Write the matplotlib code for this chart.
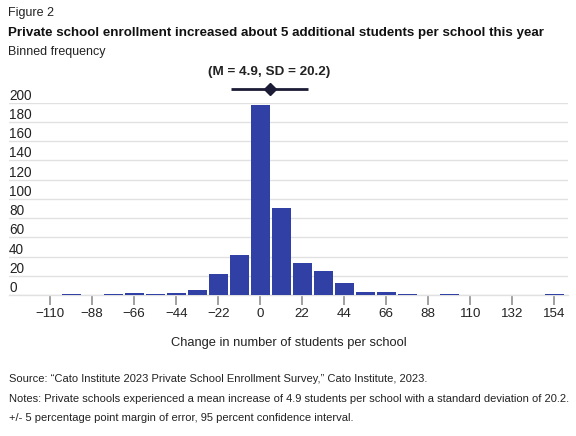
import matplotlib
matplotlib.use("Agg")
import matplotlib.pyplot as plt
import matplotlib.transforms as mtransforms

# ---- data ----
bin_centers = [-99, -77, -66, -55, -44, -33, -22, -11, 0, 11, 22, 33, 44, 55, 66, 77, 99, 154]
counts = [1, 1, 2, 1, 2, 5, 22, 42, 198, 91, 33, 25, 13, 3, 3, 1, 1, 1]
x_ticks = [-110, -88, -66, -44, -22, 0, 22, 44, 66, 88, 110, 132, 154]
y_ticks = [0, 20, 40, 60, 80, 100, 120, 140, 160, 180, 200]
mean_val = 4.9
sd_val = 20.2

title_fig = "Figure 2"
title = "Private school enrollment increased about 5 additional students per school this year"
subtitle = "Binned frequency"
xlabel = "Change in number of students per school"
annot = "(M = 4.9, SD = 20.2)"
source = "Source: \u201cCato Institute 2023 Private School Enrollment Survey,\u201d Cato Institute, 2023."
notes = "Notes: Private schools experienced a mean increase of 4.9 students per school with a standard deviation of 20.2."
moe = "+/- 5 percentage point margin of error, 95 percent confidence interval."

plt.rcParams['font.family'] = ['Liberation Sans', 'DejaVu Sans']

W, H = 576, 436
fig = plt.figure(figsize=(W / 100, H / 100), dpi=100)
ax = fig.add_axes([9 / W, (H - 295) / H, (567.7 - 9) / W, (295 - 102.7) / H])

bar_color = '#3140A4'
grid_color = '#e1e1e1'
text_color = '#222222'

ax.bar(bin_centers, counts, width=9.9, color=bar_color, zorder=3)
ax.set_xlim(-131.5, 161.0)
ax.set_ylim(0, 200)

ax.set_yticks(y_ticks)
ax.grid(axis='y', color=grid_color, linewidth=1.0, zorder=0)
ax.tick_params(axis='y', length=0, labelleft=False)
for s in ['top', 'right', 'left']:
    ax.spines[s].set_visible(False)
ax.spines['bottom'].set_color(grid_color)
ax.spines['bottom'].set_linewidth(1.0)

ax.set_xticks(x_ticks)
ax.set_xticklabels([f"{t:d}".replace('-', '\u2212') for t in x_ticks])
ax.tick_params(axis='x', length=7, width=1.3, color='#999999', labelsize=9.6,
               labelcolor=text_color, pad=2.5)
ax.set_xlabel(xlabel, fontsize=9.3, color=text_color, labelpad=12)

# y tick labels above gridlines, left aligned
ytrans = mtransforms.blended_transform_factory(ax.transAxes, ax.transData) + \
    mtransforms.ScaledTranslation(0, 3 / 100, fig.dpi_scale_trans)
for t in y_ticks:
    ax.text(0, t, str(t), transform=ytrans, ha='left', va='baseline',
            fontsize=9.8, color=text_color)

# mean +/- SD marker
ax.plot([mean_val - sd_val, mean_val + sd_val], [214.5, 214.5], color='#1c1c36',
        linewidth=2, clip_on=False, zorder=4, solid_capstyle='butt')
ax.plot([mean_val], [214.5], marker='D', markersize=6.5, color='#1c1c36',
        clip_on=False, zorder=5)
ax.text(mean_val, 232, annot, ha='center', va='center', fontsize=9.7,
        fontweight='bold', color=text_color, clip_on=False)

# header texts
fig.text(8 / W, 1 - 13 / H, title_fig, fontsize=9, color=text_color, va='center', ha='left')
fig.text(8 / W, 1 - 33 / H, title, fontsize=9.65, fontweight='bold', color='#111111',
         va='center', ha='left')
fig.text(8 / W, 1 - 52.5 / H, subtitle, fontsize=9, color=text_color, va='center', ha='left')

# footer texts
fig.text(9 / W, 1 - 379 / H, source, fontsize=8.05, color=text_color, va='center', ha='left')
fig.text(9 / W, 1 - 398.5 / H, notes, fontsize=8.05, color=text_color, va='center', ha='left')
fig.text(9 / W, 1 - 417.5 / H, moe, fontsize=8.05, color=text_color, va='center', ha='left')

fig.savefig("out.png", dpi=100)
